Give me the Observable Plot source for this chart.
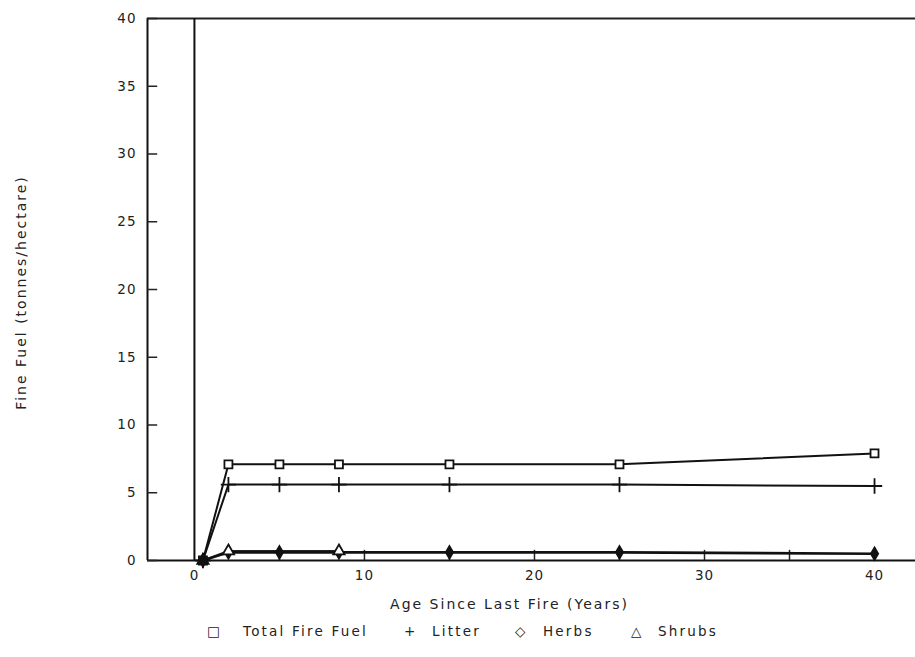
<!DOCTYPE html>
<html>
<head>
<meta charset="utf-8">
<script src="https://cdn.jsdelivr.net/npm/d3@7"></script>
<script src="https://cdn.jsdelivr.net/npm/@observablehq/plot@0.6"></script>
<style>
  html, body { margin: 0; padding: 0; background: #fff; }
  #chart svg { display: block; }
  #legend { position: relative; height: 37px;
            font-family: "DejaVu Sans", sans-serif; font-size: 13.5px; color: #222; letter-spacing: 2.2px; }
  #legend span { position: absolute; top: 3px; white-space: pre; }
</style>
</head>
<body>
<div id="chart"></div>
<div id="legend"></div>
<script>
// Data
const ages = [0.5, 2, 5, 8.5, 15, 25, 40];
const totalFuel = [0, 7.1, 7.1, 7.1, 7.1, 7.1, 7.9];
const litter = [0, 5.6, 5.6, 5.6, 5.6, 5.6, 5.5];
const herbs = [0, 0.6, 0.6, 0.6, 0.6, 0.6, 0.5];
const shrubAges = [0.5, 2, 8.5];
const shrubs = [0, 0.7, 0.7];

const yTicks = [0, 5, 10, 15, 20, 25, 30, 35, 40];
const xMinorTicks = [5, 10, 15, 20, 25, 30, 35];
const xLabelTicks = [0, 10, 20, 30, 40];
const xDomain = [-2.76, 42.41];
const yDomain = [0, 40];

const legendSymbols = ["□", "+", "◇", "△"];
const legendLabels = ["Total Fire Fuel", "Litter", "Herbs", "Shrubs"];

const mk = (xs, ys) => xs.map((x, i) => ({x, y: ys[i]}));
const total = mk(ages, totalFuel);
const lit = mk(ages, litter);
const herb = mk(ages, herbs);
const shrub = mk(shrubAges, shrubs);

const font = "DejaVu Sans, sans-serif";

const chart = Plot.plot({
  width: 915,
  height: 620,
  marginLeft: 147,
  marginRight: 0,
  marginTop: 18,
  marginBottom: 60,
  style: {fontFamily: font, fontSize: "13px", color: "#222", background: "#fff", letterSpacing: "1px"},
  x: {domain: xDomain, axis: null},
  y: {domain: yDomain, axis: null},
  marks: [
    // frame lines
    Plot.ruleY([0], {x1: xDomain[0], x2: xDomain[1], stroke: "#111", strokeWidth: 2}),
    Plot.ruleY([40], {x1: xDomain[0], x2: xDomain[1], stroke: "#222", strokeWidth: 2}),
    Plot.ruleX([xDomain[0]], {y1: 0, y2: 40, stroke: "#111", strokeWidth: 2}),
    Plot.ruleX([0], {y1: 0, y2: 40, stroke: "#111", strokeWidth: 2}),
    // inward ticks
    Plot.ruleY(yTicks, {x1: xDomain[0], x2: xDomain[0] + 0.6, stroke: "#222", strokeWidth: 1.5}),
    Plot.ruleX(xMinorTicks, {y1: 0, y2: 0.75, stroke: "#222", strokeWidth: 1.5}),
    // tick labels
    Plot.axisY(yTicks, {anchor: "left", tickSize: 0, tickPadding: 11, label: null, fontSize: 13.5, fill: "#222"}),
    Plot.axisX(xLabelTicks, {anchor: "bottom", tickSize: 0, tickPadding: 10, label: null, fontSize: 13.5, fill: "#222"}),
    // axis titles
    Plot.text(["Age Since Last Fire (Years)"], {frameAnchor: "bottom", dx: -22, dy: 48, fontSize: 14, fill: "#222", style: {letterSpacing: "2px"}}),
    Plot.text(["Fine Fuel (tonnes/hectare)"], {frameAnchor: "left", textAnchor: "middle", rotate: -90, dx: -126, dy: 3, fontSize: 14, fill: "#222"}),
    // series lines
    Plot.line(shrub, {x: "x", y: "y", stroke: "#222", strokeWidth: 2}),
    Plot.line(herb, {x: "x", y: "y", stroke: "#111", strokeWidth: 2.6}),
    Plot.line(lit, {x: "x", y: "y", stroke: "#111", strokeWidth: 2}),
    Plot.line(total, {x: "x", y: "y", stroke: "#111", strokeWidth: 2}),
    // markers
    Plot.dot(total, {x: "x", y: "y", symbol: "square", r: 4.5, fill: "white", stroke: "#111", strokeWidth: 1.8}),
    Plot.dot(lit, {x: "x", y: "y", symbol: "plus", r: 5, stroke: "#111", strokeWidth: 1.8}),
    Plot.dot(herb, {x: "x", y: "y", symbol: "diamond", r: 4, fill: "#111", stroke: "#111"}),
    Plot.dot(shrub, {x: "x", y: "y", symbol: "triangle", r: 4.2, fill: "white", stroke: "#111", strokeWidth: 1.8}),
    Plot.dot([total[0]], {x: "x", y: "y", symbol: "square", r: 5, fill: "#111"})
  ]
});
document.getElementById("chart").appendChild(chart);
// wider letter spacing for the axis titles (plotter-style lettering)
chart.querySelectorAll("text").forEach(t => {
  if (/Age Since|Fine Fuel/.test(t.textContent)) t.style.letterSpacing = "2px";
});

// legend (below the SVG)
const symLeft = [207, 404, 515, 631];
const labLeft = [243, 432, 543, 658];
const legend = document.getElementById("legend");
legendLabels.forEach((label, i) => {
  const s = document.createElement("span");
  s.style.left = symLeft[i] + "px";
  s.textContent = legendSymbols[i];
  legend.appendChild(s);
  const t = document.createElement("span");
  t.style.left = labLeft[i] + "px";
  t.textContent = label;
  legend.appendChild(t);
});
</script>
</body>
</html>
